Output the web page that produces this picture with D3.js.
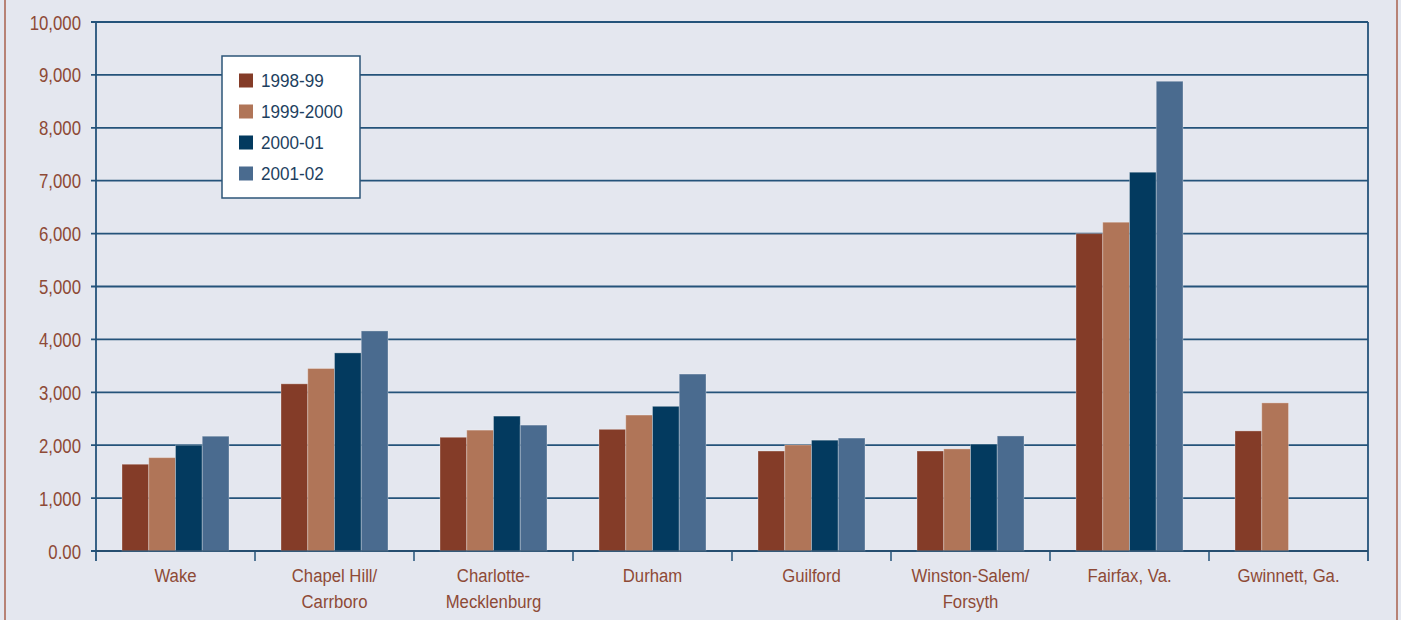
<!DOCTYPE html>
<html>
<head>
<meta charset="utf-8">
<script src="https://cdn.jsdelivr.net/npm/d3@7/dist/d3.min.js"></script>
<style>
  html, body { margin: 0; padding: 0; background: #e4e7ef; }
  svg { display: block; }
  text { font-family: "Liberation Sans", Arial, sans-serif; }
</style>
</head>
<body>
<svg id="chart" width="1401" height="620"></svg>
<script>
// Districts (multi-line labels split on "\n")
const districts = [
  "Wake", "Chapel Hill/\nCarrboro", "Charlotte-\nMecklenburg", "Durham",
  "Guilford", "Winston-Salem/\nForsyth", "Fairfax, Va.", "Gwinnett, Ga."
];
const years = ["1998-99", "1999-2000", "2000-01", "2001-02"];

// Values per school year, one entry per district (null = no data)
const v1998 = [1640, 3160, 2150, 2300, 1890, 1890, 6000, 2270];
const v1999 = [1765, 3450, 2285, 2570, 2005, 1930, 6215, 2800];
const v2000 = [2000, 3745, 2550, 2735, 2095, 2020, 7160, null];
const v2001 = [2170, 4160, 2380, 3345, 2135, 2175, 8880, null];

const yTicks = [0, 1000, 2000, 3000, 4000, 5000, 6000, 7000, 8000, 9000, 10000];
const yTickLabels = ["0.00", "1,000", "2,000", "3,000", "4,000", "5,000",
                     "6,000", "7,000", "8,000", "9,000", "10,000"];

const colors = ["#843c28", "#b07558", "#033a5f", "#4a6b8f"];
const series = [v1998, v1999, v2000, v2001];

const svg = d3.select("#chart");
const W = 1401, H = 620;
const m = { left: 96, right: 1368, top: 22, bottom: 551 };
const labelColor = "#8e4a36";

// text placed at (x, y), condensed horizontally by sx
function label(parent, x, y, str, anchor, fill, size, sx) {
  return parent.append("text")
    .attr("transform", `translate(${x},${y}) scale(${sx},1)`)
    .attr("text-anchor", anchor)
    .attr("font-size", size)
    .attr("fill", fill)
    .text(str);
}

// outer frame side rules
svg.append("line").attr("x1", 5).attr("x2", 5).attr("y1", 0).attr("y2", H)
  .attr("stroke", "#a8604c").attr("stroke-width", 1.5);
svg.append("line").attr("x1", 1397).attr("x2", 1397).attr("y1", 0).attr("y2", H)
  .attr("stroke", "#a8604c").attr("stroke-width", 1.5);

const x0 = d3.scaleBand().domain(districts).range([m.left, m.right]).paddingInner(0).paddingOuter(0);
const groupPad = 26;
const x1 = d3.scaleBand().domain(years).range([0, x0.bandwidth() - 2 * groupPad]).padding(0);
const y = d3.scaleLinear().domain([0, 10000]).range([m.bottom, m.top]);

const lineColor = "#24537a";

// horizontal gridlines with left tick stubs
yTicks.forEach((t, i) => {
  svg.append("line")
    .attr("x1", m.left - 5).attr("x2", m.right)
    .attr("y1", y(t)).attr("y2", y(t))
    .attr("stroke", lineColor).attr("stroke-width", 1.8);
  label(svg, 81, y(t) + 7.5, yTickLabels[i], "end", labelColor, 21, 0.8);
});

// vertical axis lines
svg.append("line").attr("x1", m.left).attr("x2", m.left)
  .attr("y1", m.top).attr("y2", m.bottom + 10)
  .attr("stroke", lineColor).attr("stroke-width", 1.8);
svg.append("line").attr("x1", m.right).attr("x2", m.right)
  .attr("y1", m.top).attr("y2", m.bottom + 10)
  .attr("stroke", lineColor).attr("stroke-width", 1.8);

// category boundary ticks
districts.slice(1).forEach(d => {
  svg.append("line").attr("x1", x0(d)).attr("x2", x0(d))
    .attr("y1", m.bottom).attr("y2", m.bottom + 10)
    .attr("stroke", lineColor).attr("stroke-width", 1.5);
});

// bars
const bars = svg.append("g");
districts.forEach((d, i) => {
  series.forEach((s, k) => {
    const v = s[i];
    if (v == null) return;
    bars.append("rect")
      .attr("x", x0(d) + groupPad + x1(years[k]))
      .attr("y", y(v))
      .attr("width", x1.bandwidth())
      .attr("height", y(0) - y(v))
      .attr("fill", colors[k])
      .attr("stroke", "rgba(255,255,255,0.3)")
      .attr("stroke-width", 1);
  });
});

// baseline over bars
svg.append("line").attr("x1", m.left).attr("x2", m.right)
  .attr("y1", y(0)).attr("y2", y(0))
  .attr("stroke", "#2a4a68").attr("stroke-opacity", 0.7).attr("stroke-width", 1.5);

// category labels
districts.forEach(d => {
  const cx = x0(d) + x0.bandwidth() / 2;
  d.split("\n").forEach((ln, j) => {
    label(svg, cx, 582 + j * 26, ln, "middle", labelColor, 19, 0.88);
  });
});

// legend
const lg = svg.append("g").attr("transform", "translate(222,56)");
lg.append("rect").attr("width", 138).attr("height", 142)
  .attr("fill", "#ffffff").attr("stroke", "#2d5578").attr("stroke-width", 1.5);
years.forEach((yr, k) => {
  const cy = 24.5 + k * 31;
  lg.append("rect").attr("x", 17).attr("y", cy - 7).attr("width", 14).attr("height", 14)
    .attr("fill", colors[k]);
  label(lg, 39, cy + 6.8, yr, "start", "#1d3f60", 19, 0.9);
});
</script>
</body>
</html>
